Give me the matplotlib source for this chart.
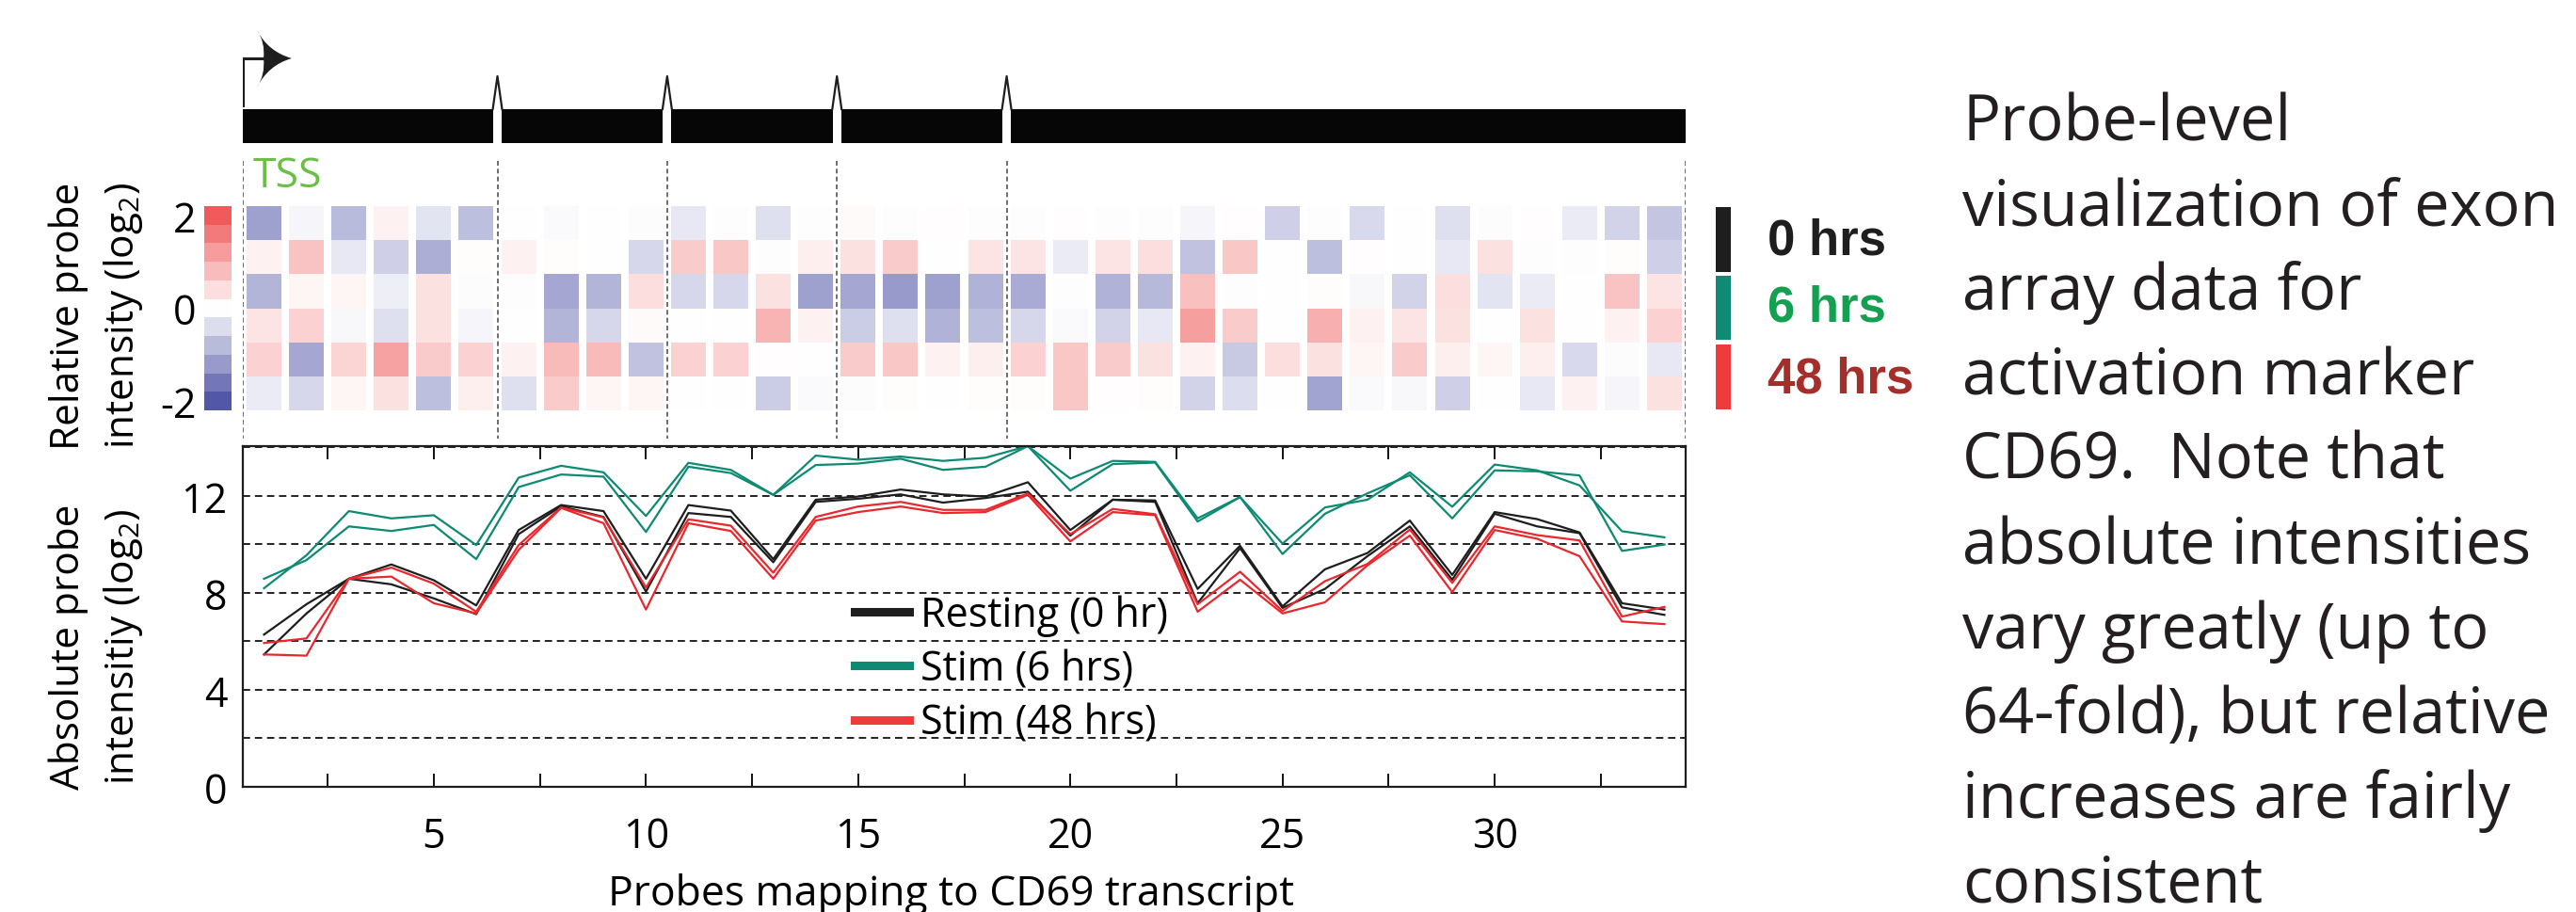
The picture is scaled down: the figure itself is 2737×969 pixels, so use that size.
import numpy as np
import matplotlib
matplotlib.use('Agg')
import matplotlib.pyplot as plt
from matplotlib.colors import LinearSegmentedColormap, Normalize
from matplotlib.path import Path
from matplotlib.patches import PathPatch
from matplotlib.lines import Line2D
from matplotlib.ticker import MultipleLocator

W, H = 2737, 970

# ---- data ----
probes = np.arange(1, 35)
exon_edges = [0.5, 6.5, 10.5, 14.5, 18.5, 34.5]

# relative probe intensity (log2), two replicates per time point
rel_0h_a = [-1.12, -0.12, -0.8, 0.16, -0.32, -0.76, 0, -0.06, 0, -0.04, -0.28, -0.02, -0.36, -0.02, 0.06, -0.02, 0.02,
            -0.02, -0.03, 0.02, -0.02, -0.02, -0.12, 0.02, -0.56, -0.02, -0.44, 0, -0.36, -0.04, 0.02, -0.24, -0.52, -0.68]
rel_0h_b = [0.16, 0.72, -0.28, -0.56, -0.96, 0.04, 0.16, 0.04, 0, -0.48, 0.64, 0.68, -0.02, 0.2, 0.36, 0.64, 0,
            0.32, 0.32, -0.24, 0.32, 0.4, -0.72, 0.68, 0, -0.76, 0.02, 0, -0.28, 0.36, -0.02, -0.02, 0.04, -0.56]
rel_6h_a = [-0.88, 0.12, 0.12, -0.2, 0.36, -0.04, -0.02, -1.04, -0.88, 0.4, -0.48, -0.48, 0.36, -1.12, -1.04, -1.2, -1.12,
            -0.92, -1.0, -0.02, -0.92, -0.84, 0.76, -0.02, 0, 0.04, -0.08, -0.52, 0.4, -0.32, -0.24, 0, 0.72, 0.32]
rel_6h_b = [0.32, 0.56, -0.08, -0.36, 0.36, -0.12, 0, -0.88, -0.48, 0.06, 0, 0, 0.92, 0.16, -0.6, -0.36, -0.92,
            -0.76, -0.48, -0.06, -0.52, -0.28, 1.16, 0.64, 0, 0.96, 0.16, 0.32, 0.36, 0, 0.36, 0, 0.16, 0.56]
rel_48h_a = [0.56, -1.04, 0.52, 1.12, 0.64, 0.56, 0.16, 0.84, 0.84, -0.72, 0.56, 0.56, 0.02, 0, 0.64, 0.68, 0.16,
             0.2, 0.56, 0.68, 0.64, 0.36, 0.16, -0.64, 0.4, 0.36, 0.12, 0.64, 0.2, 0.12, 0.2, -0.44, -0.04, -0.28]
rel_48h_b = [-0.24, -0.48, 0.12, 0.36, -0.76, 0.2, -0.36, 0.64, 0.12, 0.12, 0, 0, -0.6, -0.06, -0.04, 0.04, 0,
             0.04, 0.04, 0.68, 0.02, 0.04, -0.52, -0.4, 0, -1.08, -0.05, -0.08, -0.56, 0, -0.28, 0.16, -0.12, 0.36]

cb_levels = [2, 1.6, 1.2, 0.8, 0.4, 0, -0.4, -0.8, -1.2, -1.6, -2]
cb_ticklabels = ['2', '0', '-2']

# absolute probe intensity (log2)
abs_0h_a = [6.28, 7.53, 8.58, 9.17, 8.52, 7.48, 10.59, 11.62, 11.37, 8.58, 11.62, 11.39, 9.39, 11.84, 11.97, 12.26, 12.06,
            11.97, 12.56, 10.59, 11.84, 11.81, 8.16, 9.94, 7.44, 8.97, 9.64, 10.98, 8.74, 11.33, 11.04, 10.49, 7.57, 7.31]
abs_0h_b = [5.46, 7.15, 8.58, 8.35, 7.77, 7.12, 10.42, 11.57, 11.13, 8.05, 11.29, 11.13, 9.26, 11.75, 11.88, 12.06, 11.72,
            11.91, 12.17, 10.36, 11.84, 11.75, 7.57, 9.84, 7.38, 8.16, 9.51, 10.74, 8.54, 11.26, 10.74, 10.46, 7.4, 7.09]
abs_6h_a = [8.58, 9.35, 10.74, 10.55, 10.8, 9.39, 12.36, 12.88, 12.79, 10.51, 13.2, 12.94, 12.04, 13.27, 13.33, 13.53, 13.07,
            13.2, 14.05, 12.21, 13.31, 13.37, 10.94, 11.95, 9.6, 11.26, 12.1, 12.85, 11.07, 13.05, 13.01, 12.84, 9.73, 9.99]
abs_6h_b = [8.19, 9.55, 11.37, 11.07, 11.2, 9.97, 12.75, 13.24, 12.97, 11.17, 13.36, 13.07, 12.04, 13.66, 13.49, 13.62, 13.44,
            13.57, 14.05, 12.71, 13.44, 13.4, 11.07, 11.95, 10.03, 11.52, 11.84, 12.97, 11.55, 13.29, 13.05, 12.43, 10.54, 10.29]
abs_48h_a = [5.93, 6.12, 8.58, 9.04, 8.38, 7.22, 9.97, 11.52, 11.11, 8.22, 11.03, 10.77, 8.83, 11.13, 11.56, 11.75, 11.42,
             11.42, 12.1, 10.42, 11.46, 11.24, 7.53, 8.87, 7.25, 8.48, 9.19, 10.61, 8.41, 10.74, 10.38, 10.16, 7.02, 7.42]
abs_48h_b = [5.46, 5.41, 8.58, 8.67, 7.57, 7.15, 9.77, 11.5, 10.87, 7.31, 10.87, 10.55, 8.58, 10.98, 11.33, 11.56, 11.29,
             11.33, 12.04, 10.12, 11.33, 11.2, 7.22, 8.54, 7.15, 7.61, 9.13, 10.36, 8.03, 10.59, 10.23, 9.51, 6.82, 6.71]

series_labels = ['Resting (0 hr)', 'Stim (6 hrs)', 'Stim (48 hrs)']
time_labels = ['0 hrs', '6 hrs', '48 hrs']

caption_lines = ['Probe-level', 'visualization of exon', 'array data for', 'activation marker',
                 'CD69.  Note that', 'absolute intensities', 'vary greatly (up to',
                 '64-fold), but relative', 'increases are fairly', 'consistent']

BLACK = '#1e1e1e'
TEAL = '#0e8a72'
RED = '#e8282d'

plt.rcParams['font.family'] = ['Open Sans', 'DejaVu Sans']
plt.rcParams['mathtext.fontset'] = 'custom'
plt.rcParams['mathtext.rm'] = 'Open Sans'

fig = plt.figure(figsize=(W / 100, H / 100), dpi=100)


def px_axes(x0, y0, x1, y1):
    return fig.add_axes([x0 / W, 1 - y1 / H, (x1 - x0) / W, (y1 - y0) / H])


XL, XR = 258, 1791
UNIT = (XR - XL) / 34.0

# ---- gene model, exon boundaries, TSS ----
ax_top = px_axes(XL, 0, XR, 475)
ax_top.set_xlim(0.5, 34.5)
ax_top.set_ylim(475, 0)
ax_top.axis('off')
ax_top.patch.set_alpha(0)

gap = 0.1
spans = []
for i in range(len(exon_edges) - 1):
    a = exon_edges[i] + (gap if i > 0 else 0)
    b = exon_edges[i + 1] - (gap if i < len(exon_edges) - 2 else 0)
    spans.append((a, b - a))
ax_top.broken_barh(spans, (117, 36), facecolors='#060606')
for b in exon_edges[1:-1]:
    ax_top.plot([b - 0.11, b, b + 0.11], [117, 82, 117], color=BLACK, lw=1.6)

ax_top.vlines(exon_edges, 172, 467, colors='#555555', linestyles=(0, (3, 2)), lw=1.2)

# TSS arrow
x0 = exon_edges[0]
ax_top.plot([x0, x0, x0 + 22 / UNIT], [113, 63, 63], color=BLACK, lw=2.2, solid_joinstyle='miter')
u = lambda p: x0 + p / UNIT
verts = [(u(15), 33), (u(27), 56), (u(52), 63), (u(27), 70), (u(15), 94),
         (u(24), 80), (u(22), 63), (u(24), 46), (u(15), 33)]
codes = [Path.MOVETO, Path.CURVE3, Path.CURVE3, Path.CURVE3, Path.CURVE3,
         Path.CURVE3, Path.CURVE3, Path.CURVE3, Path.CURVE3]
ax_top.add_patch(PathPatch(Path(verts, codes), facecolor=BLACK, edgecolor='none'))
ax_top.text(x0 + 11 / UNIT, 188, 'TSS', color='#6abf45', fontsize=32, va='center', ha='left')

# ---- heatmap ----
cmap = LinearSegmentedColormap.from_list('rb', ['#5257a8', '#ffffff', '#f05a5a'])
norm = Normalize(-2, 2)

ax_hm = px_axes(XL, 220, XR, 437)
rel_rows = [rel_0h_a, rel_0h_b, rel_6h_a, rel_6h_b, rel_48h_a, rel_48h_b]
for i, row in enumerate(rel_rows):
    ax_hm.bar(probes, 1.0, bottom=i, width=0.82, color=cmap(norm(np.array(row))), linewidth=0)
ax_hm.set_xlim(0.5, 34.5)
ax_hm.set_ylim(6, 0)
ax_hm.axis('off')
ax_hm.patch.set_alpha(0)

ax_cb = px_axes(217, 220, 246, 437)
ax_cb.imshow(np.array(cb_levels)[:, None], cmap=cmap, norm=norm, aspect='auto')
ax_cb.set_xticks([])
ax_cb.set_yticks([0, 5, 10])
ax_cb.set_yticklabels(cb_ticklabels, fontsize=31)
ax_cb.tick_params(axis='y', length=0, pad=6)
for s in ax_cb.spines.values():
    s.set_visible(False)

# time-point key
ax_tl = px_axes(1823, 220, 1839, 437)
ax_tl.bar([0, 0, 0], [1.9, 1.88, 1.92], bottom=[0.03, 2.05, 4.06], width=1,
          color=[BLACK, '#0f8a74', '#ee3b3b'], linewidth=0)
ax_tl.set_xlim(-0.5, 0.5)
ax_tl.set_ylim(6, 0)
ax_tl.axis('off')
for lab, c, yy in zip(time_labels, [BLACK, '#14a050', '#a52d2a'], [257, 328, 403]):
    fig.text(1878 / W, 1 - yy / H, lab, color=c, fontsize=38, fontweight='bold',
             family=['Liberation Sans', 'DejaVu Sans'], va='center', ha='left')

# ---- absolute intensity lines ----
ax = px_axes(XL, 475, XR, 837)
for ys, c in [(abs_0h_a, BLACK), (abs_0h_b, BLACK), (abs_6h_a, TEAL), (abs_6h_b, TEAL),
              (abs_48h_a, RED), (abs_48h_b, RED)]:
    ax.plot(probes, ys, color=c, lw=1.6)
ax.set_xlim(0.5, 34.5)
ax.set_ylim(0, 14.05)
ax.set_xticks([5, 10, 15, 20, 25, 30])
ax.xaxis.set_minor_locator(MultipleLocator(2.5))
ax.set_yticks([0, 4, 8, 12])
ax.set_yticks([2, 6, 10, 14], minor=True)
ax.grid(axis='y', which='both', linestyle=(0, (4, 2.6)), color='#222222', lw=1.4)
ax.set_axisbelow(True)
ax.tick_params(axis='x', which='both', direction='in', length=10, width=1.3, top=True,
               labelsize=31, pad=22)
ax.tick_params(axis='y', which='both', length=0, labelsize=31, pad=12)
for s in ax.spines.values():
    s.set_linewidth(1.6)
    s.set_color(BLACK)

handles = [Line2D([], [], color=c, lw=6.5) for c in [BLACK, TEAL, '#ee3b3b']]
fig.legend(handles, series_labels, loc='center left', bbox_to_anchor=(908 / W, 1 - 712 / H),
           frameon=False, fontsize=31, handlelength=1.35, handletextpad=0.28,
           labelspacing=0.3, borderpad=0, borderaxespad=0)

# axis labels
fig.text(1010 / W, 1 - 962 / H, 'Probes mapping to CD69 transcript', fontsize=32, ha='center', va='baseline')
fig.text(73 / W, 1 - 336 / H, 'Relative probe', fontsize=30.5, rotation=90, ha='center', va='center')
fig.text(131 / W, 1 - 336 / H, 'intensity (log$_2$)', fontsize=30.5, rotation=90, ha='center', va='center')
fig.text(73 / W, 1 - 687 / H, 'Absolute probe', fontsize=30.5, rotation=90, ha='center', va='center')
fig.text(131 / W, 1 - 687 / H, 'intensitiy (log$_2$)', fontsize=30.5, rotation=90, ha='center', va='center')

# caption
for i, line in enumerate(caption_lines):
    fig.text(2085 / W, 1 - (149 + 90 * i) / H, line, fontsize=48, color='#231f20',
             ha='left', va='baseline')

fig.savefig('out.png', dpi=100)
